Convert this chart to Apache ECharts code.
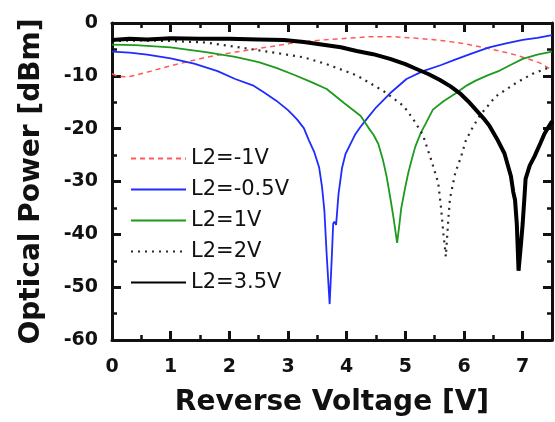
<!DOCTYPE html>
<html>
<head>
<meta charset="utf-8">
<script src="https://cdn.jsdelivr.net/npm/echarts@6/dist/echarts.min.js"></script>
<style>html,body{margin:0;padding:0;background:#fff;}#chart{width:555px;height:422px;}</style>
</head>
<body>
<div id="chart"></div>
<script>
// Series names
const seriesNames = ['L2=-1V', 'L2=-0.5V', 'L2=1V', 'L2=2V', 'L2=3.5V'];
// x-axis ticks (Reverse Voltage, V) and y-axis ticks (Optical Power, dBm)
const xTicks = [0, 1, 2, 3, 4, 5, 6, 7];
const yTicks = [0, -10, -20, -30, -40, -50, -60];

// [voltage, dBm] readings for each curve
const dataM1V = [[0,-9.6],[0.1,-10.1],[0.25,-10.2],[0.4,-9.9],[0.6,-9.3],[0.8,-8.7],[1.0,-8.1],[1.3,-7.3],[1.6,-6.5],[2.0,-5.7],[2.4,-5.0],[2.8,-4.3],[3.2,-3.6],[3.6,-3.2],[4.0,-2.9],[4.4,-2.6],[4.8,-2.6],[5.2,-2.9],[5.6,-3.3],[6.0,-3.9],[6.4,-4.8],[6.8,-5.8],[7.1,-6.8],[7.3,-7.6],[7.5,-8.9]];
const dataM05V = [[0,-5.4],[0.3,-5.6],[0.6,-6.0],[1.0,-6.7],[1.4,-7.7],[1.8,-9.1],[2.1,-10.6],[2.4,-11.8],[2.6,-13.2],[2.8,-14.7],[3.0,-16.5],[3.15,-18.2],[3.27,-19.9],[3.36,-22.3],[3.45,-24.5],[3.53,-27.3],[3.58,-31],[3.62,-35.5],[3.66,-44],[3.71,-53.2],[3.75,-43.5],[3.77,-38],[3.79,-37.6],[3.82,-38.2],[3.86,-32.5],[3.92,-27.5],[3.98,-24.8],[4.07,-22.8],[4.15,-21],[4.24,-19.6],[4.34,-18.2],[4.5,-16],[4.74,-13.3],[5.02,-10.6],[5.3,-9.1],[5.6,-8],[5.86,-6.9],[6.15,-5.7],[6.43,-4.6],[6.7,-3.9],[7.0,-3.2],[7.25,-2.8],[7.5,-2.3]];
const dataP1V = [[0,-4.1],[0.4,-4.2],[1.0,-4.6],[1.6,-5.5],[2.1,-6.4],[2.5,-7.4],[2.8,-8.5],[3.1,-9.8],[3.4,-11.2],[3.66,-12.5],[3.95,-15.1],[4.24,-17.6],[4.37,-19.8],[4.46,-21.2],[4.54,-22.9],[4.62,-26],[4.68,-29],[4.75,-33.5],[4.8,-37],[4.86,-41.6],[4.9,-38],[4.93,-35.1],[5.0,-31],[5.05,-28.4],[5.11,-25.8],[5.17,-23.4],[5.26,-20.9],[5.34,-19.2],[5.47,-16.4],[5.65,-14.8],[5.86,-13.3],[6.05,-11.8],[6.2,-10.9],[6.4,-9.9],[6.61,-9.0],[6.8,-7.9],[7.0,-6.8],[7.25,-6.0],[7.5,-5.4]];
const dataP2V = [[0,-3.4],[0.5,-3.3],[1.0,-3.4],[1.6,-3.7],[2.1,-4.5],[2.7,-5.5],[3.27,-6.5],[3.66,-7.8],[4.17,-9.9],[4.63,-12.9],[4.97,-15.7],[5.14,-18.3],[5.3,-21.2],[5.44,-25.9],[5.56,-30.2],[5.61,-35.1],[5.65,-40],[5.69,-44.2],[5.73,-37.6],[5.76,-33.3],[5.85,-28.4],[5.95,-25.3],[6.03,-22.3],[6.12,-20.3],[6.27,-17.5],[6.54,-13.9],[6.88,-11.4],[7.17,-9.6],[7.5,-8.2]];
const dataP35V = [[0,-3.2],[0.3,-3.0],[0.6,-3.1],[1.0,-2.9],[1.5,-3.0],[2.0,-3.0],[2.5,-3.1],[2.93,-3.2],[3.27,-3.6],[3.6,-4.1],[3.9,-4.6],[4.17,-5.3],[4.45,-5.9],[4.74,-6.8],[5.0,-7.8],[5.19,-8.7],[5.4,-9.7],[5.59,-10.8],[5.77,-12],[5.93,-13.3],[6.07,-14.8],[6.2,-16.4],[6.33,-18],[6.43,-19.4],[6.58,-22.3],[6.69,-24.7],[6.8,-29],[6.84,-32],[6.87,-33.5],[6.9,-38],[6.93,-46.9],[6.97,-42],[7.0,-38],[7.03,-33],[7.05,-29.5],[7.12,-27],[7.2,-25.3],[7.3,-22.8],[7.37,-21],[7.45,-19.5],[7.5,-18.6]];

const seriesData = [dataM1V, dataM05V, dataP1V, dataP2V, dataP35V];
const seriesStyles = [
  {color: '#ff5a5a', width: 1.5, type: [5, 4]},
  {color: '#1f2cff', width: 1.8, type: 'solid'},
  {color: '#1e9a1e', width: 1.8, type: 'solid'},
  {color: '#2a2a2a', width: 2.2, type: [2, 5]},
  {color: '#000000', width: 4, type: 'solid'}
];

const chart = echarts.init(document.getElementById('chart'), null, {renderer: 'canvas'});
const ink = '#111';
const boldFont = 'DejaVu Sans';

function xAxisDef(pos, showLabel) {
  return {
    type: 'value', position: pos, min: 0, max: 7.5, interval: 1,
    axisLine: {show: true, onZero: false, lineStyle: {color: ink, width: 3}},
    axisTick: {show: true, inside: true, length: 9, lineStyle: {color: ink, width: 3}},
    minorTick: {show: true, splitNumber: 2, length: 5, lineStyle: {color: ink, width: 2.5}},
    splitLine: {show: false},
    axisLabel: {show: showLabel, color: ink, fontFamily: boldFont, fontWeight: 'bold', fontSize: 19, margin: 18,
      formatter: v => (xTicks.indexOf(v) >= 0 ? String(v) : '')},
    name: showLabel ? 'Reverse Voltage [V]' : '',
    nameLocation: 'middle', nameGap: 49,
    nameTextStyle: {color: ink, fontFamily: boldFont, fontWeight: 'bold', fontSize: 28}
  };
}
function yAxisDef(pos, showLabel) {
  return {
    type: 'value', position: pos, min: -60, max: 0, interval: 10,
    axisLine: {show: true, onZero: false, lineStyle: {color: ink, width: 3}},
    axisTick: {show: true, inside: true, length: 9, lineStyle: {color: ink, width: 3}},
    minorTick: {show: true, splitNumber: 2, length: 5, lineStyle: {color: ink, width: 2.5}},
    splitLine: {show: false},
    axisLabel: {show: showLabel, color: ink, fontFamily: boldFont, fontWeight: 'bold', fontSize: 19, margin: 14,
      formatter: v => (yTicks.indexOf(v) >= 0 ? String(v) : '')},
    name: showLabel ? 'Optical Power [dBm]' : '',
    nameLocation: 'middle', nameGap: 66, nameRotate: 90,
    nameTextStyle: {color: ink, fontFamily: boldFont, fontWeight: 'bold', fontSize: 28}
  };
}

const option = {
  animation: false,
  backgroundColor: '#fff',
  grid: {left: 112, right: 2, top: 23, bottom: 74, containLabel: false},
  xAxis: [xAxisDef('bottom', true), xAxisDef('top', false)],
  yAxis: [yAxisDef('left', true), yAxisDef('right', false)],
  legend: {
    orient: 'vertical', left: 130, top: 148, padding: 0,
    itemWidth: 55, itemHeight: 14, itemGap: 10, itemTextGap: 8,
    itemStyle: {opacity: 0},
    textStyle: {color: ink, fontFamily: 'DejaVu Sans', fontSize: 21},
    data: seriesNames
  },
  series: seriesNames.map((name, i) => ({
    name: name, type: 'line', xAxisIndex: 0, yAxisIndex: 0,
    data: seriesData[i], symbol: 'none', smooth: false,
    lineStyle: {color: seriesStyles[i].color, width: seriesStyles[i].width, type: seriesStyles[i].type},
    itemStyle: {color: seriesStyles[i].color},
    z: 2 + i
  }))
};
chart.setOption(option);
</script>
</body>
</html>
